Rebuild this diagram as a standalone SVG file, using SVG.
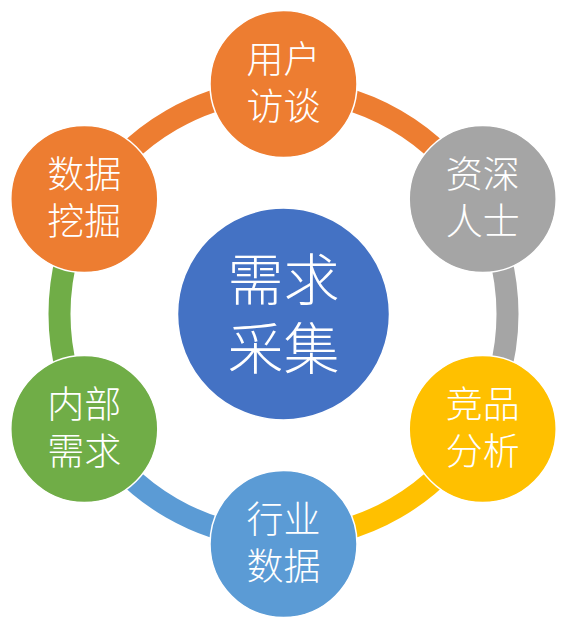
<svg xmlns="http://www.w3.org/2000/svg" width="572" height="628" viewBox="0 0 572 628">
<style>
.arc{fill:none;stroke-width:22;stroke-linecap:butt}
.node{stroke:#fff;stroke-width:1.5}
.t{font-family:"Noto Sans CJK SC","Noto Sans",sans-serif;font-weight:300;fill:#fff;text-anchor:middle;dominant-baseline:central}
.s{font-size:37px}
.c{font-size:56px}
</style>
<rect width="572" height="628" fill="#fff"/>
<g id="connectors">
<path class="arc" stroke="#ED7D31" d="M283.5,90 A224,224 0 0 1 477.49,202"/>
<path class="arc" stroke="#A5A5A5" d="M477.49,202 A224,224 0 0 1 477.49,426"/>
<path class="arc" stroke="#FFC000" d="M477.49,426 A224,224 0 0 1 283.5,538"/>
<path class="arc" stroke="#5B9BD5" d="M283.5,538 A224,224 0 0 1 89.51,426"/>
<path class="arc" stroke="#70AD47" d="M89.51,426 A224,224 0 0 1 89.51,202"/>
<path class="arc" stroke="#ED7D31" d="M89.51,202 A224,224 0 0 1 283.5,90"/>
</g>
<g id="center">
<circle class="node" cx="283.5" cy="314" r="106" fill="#4472C4"/>
<text class="t c"><tspan x="283.5" y="275">需求</tspan><tspan x="283.5" y="344">采集</tspan></text>
</g>
<g id="n1">
<circle class="node" cx="283.5" cy="84" r="73.5" fill="#ED7D31"/>
<text class="t s"><tspan x="283.5" y="57">用户</tspan><tspan x="283.5" y="104">访谈</tspan></text>
</g>
<g id="n2">
<circle class="node" cx="482.7" cy="199" r="73.5" fill="#A5A5A5"/>
<text class="t s"><tspan x="482.7" y="172">资深</tspan><tspan x="482.7" y="219">人士</tspan></text>
</g>
<g id="n3">
<circle class="node" cx="482.7" cy="429" r="73.5" fill="#FFC000"/>
<text class="t s"><tspan x="482.7" y="402">竞品</tspan><tspan x="482.7" y="449">分析</tspan></text>
</g>
<g id="n4">
<circle class="node" cx="283.5" cy="544" r="73.5" fill="#5B9BD5"/>
<text class="t s"><tspan x="283.5" y="517">行业</tspan><tspan x="283.5" y="564">数据</tspan></text>
</g>
<g id="n5">
<circle class="node" cx="84.3" cy="429" r="73.5" fill="#70AD47"/>
<text class="t s"><tspan x="84.3" y="402">内部</tspan><tspan x="84.3" y="449">需求</tspan></text>
</g>
<g id="n6">
<circle class="node" cx="84.3" cy="199" r="73.5" fill="#ED7D31"/>
<text class="t s"><tspan x="84.3" y="172">数据</tspan><tspan x="84.3" y="219">挖掘</tspan></text>
</g>
</svg>
